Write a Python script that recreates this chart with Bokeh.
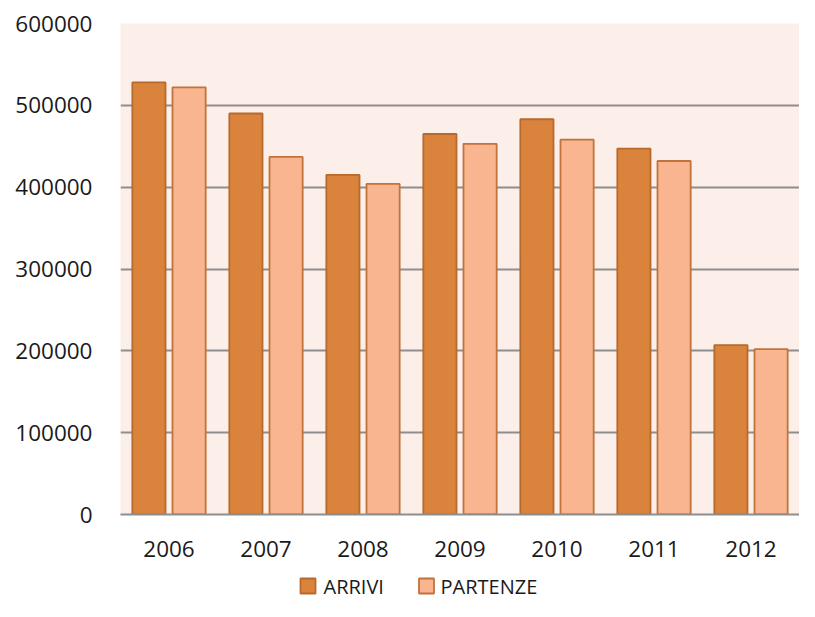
from bokeh.plotting import figure
from bokeh.layouts import column
from bokeh.models import ColumnDataSource, FactorRange, Range1d, FixedTicker
from bokeh.core.properties import value
from bokeh.transform import dodge
from bokeh.embed import file_html
from bokeh.resources import INLINE

years = ["2006", "2007", "2008", "2009", "2010", "2011", "2012"]
arrivi = [528000, 490000, 415000, 465000, 483000, 447000, 207000]
partenze = [522000, 437000, 404000, 453000, 458000, 432000, 202000]
y_ticks = [0, 100000, 200000, 300000, 400000, 500000, 600000]
y_labels = ["0", "100000", "200000", "300000", "400000", "500000", "600000"]
series_names = ["ARRIVI", "PARTENZE"]

src = ColumnDataSource(dict(year=years, arrivi=arrivi, partenze=partenze))

FONT = "Open Sans"
C_A, L_A = "#DA833C", "#B8692D"
C_P, L_P = "#F9B590", "#C0733A"

p = figure(width=799, height=570, x_range=FactorRange(*years), y_range=Range1d(0, 600000),
           output_backend="svg", toolbar_location=None,
           min_border_left=120, min_border_top=23, min_border_right=0, min_border_bottom=56)
p.background_fill_color = "#FCEEE9"
p.border_fill_color = "white"
p.outline_line_color = None

p.vbar(x=dodge("year", -0.207, range=p.x_range), top="arrivi", width=0.342, source=src,
       fill_color=C_A, line_color=L_A, line_width=1.8)
p.vbar(x=dodge("year", 0.207, range=p.x_range), top="partenze", width=0.342, source=src,
       fill_color=C_P, line_color=L_P, line_width=1.8)

p.xgrid.grid_line_color = None
p.ygrid.grid_line_color = "#8E8E8E"
p.ygrid.grid_line_width = 2
p.ygrid.ticker = FixedTicker(ticks=y_ticks)

p.yaxis.ticker = FixedTicker(ticks=y_ticks)
p.yaxis.major_label_overrides = {t: l for t, l in zip(y_ticks, y_labels)}
p.yaxis.axis_line_color = None
p.yaxis.major_tick_line_color = None
p.yaxis.major_tick_out = 0
p.yaxis.major_tick_in = 0
p.yaxis.minor_tick_line_color = None
p.yaxis.major_label_standoff = 28
p.yaxis.major_label_text_font = FONT
p.yaxis.major_label_text_font_size = "22.5px"
p.yaxis.major_label_text_color = "#1a1a1a"

p.xaxis.axis_line_color = "#8E8E8E"
p.xaxis.axis_line_width = 2
p.xaxis.major_tick_line_color = None
p.xaxis.minor_tick_line_color = None
p.xaxis.major_label_standoff = 20
p.xaxis.major_label_text_font = FONT
p.xaxis.major_label_text_font_size = "22.5px"
p.xaxis.major_label_text_color = "#1a1a1a"

# legend row: a small figure in pixel units, frame aligned with the main frame
lf = figure(width=799, height=31, x_range=Range1d(0, 679), y_range=Range1d(0, 31),
            output_backend="svg", toolbar_location=None,
            min_border_left=120, min_border_right=0, min_border_top=0, min_border_bottom=0)
lf.axis.visible = False
lf.grid.visible = False
lf.outline_line_color = None
lf.background_fill_color = "white"
lf.border_fill_color = "white"
leg_src = ColumnDataSource(dict(
    sx=[187.5, 306.0], tx=[203, 320], y=[15.5, 15.5],
    fill=[C_A, C_P], line=[L_A, L_P], name=series_names))
lf.rect(x="sx", y="y", width=15, height=15, fill_color="fill", line_color="line",
        line_width=1.8, source=leg_src)
lf.text(x="tx", y="y", text="name", text_font=value(FONT), text_font_size="20px",
        text_color="#1a1a1a", text_baseline="middle", text_align="left", source=leg_src)

layout = column(p, lf, spacing=0)
open("out.html", "w").write(file_html(layout, INLINE))
